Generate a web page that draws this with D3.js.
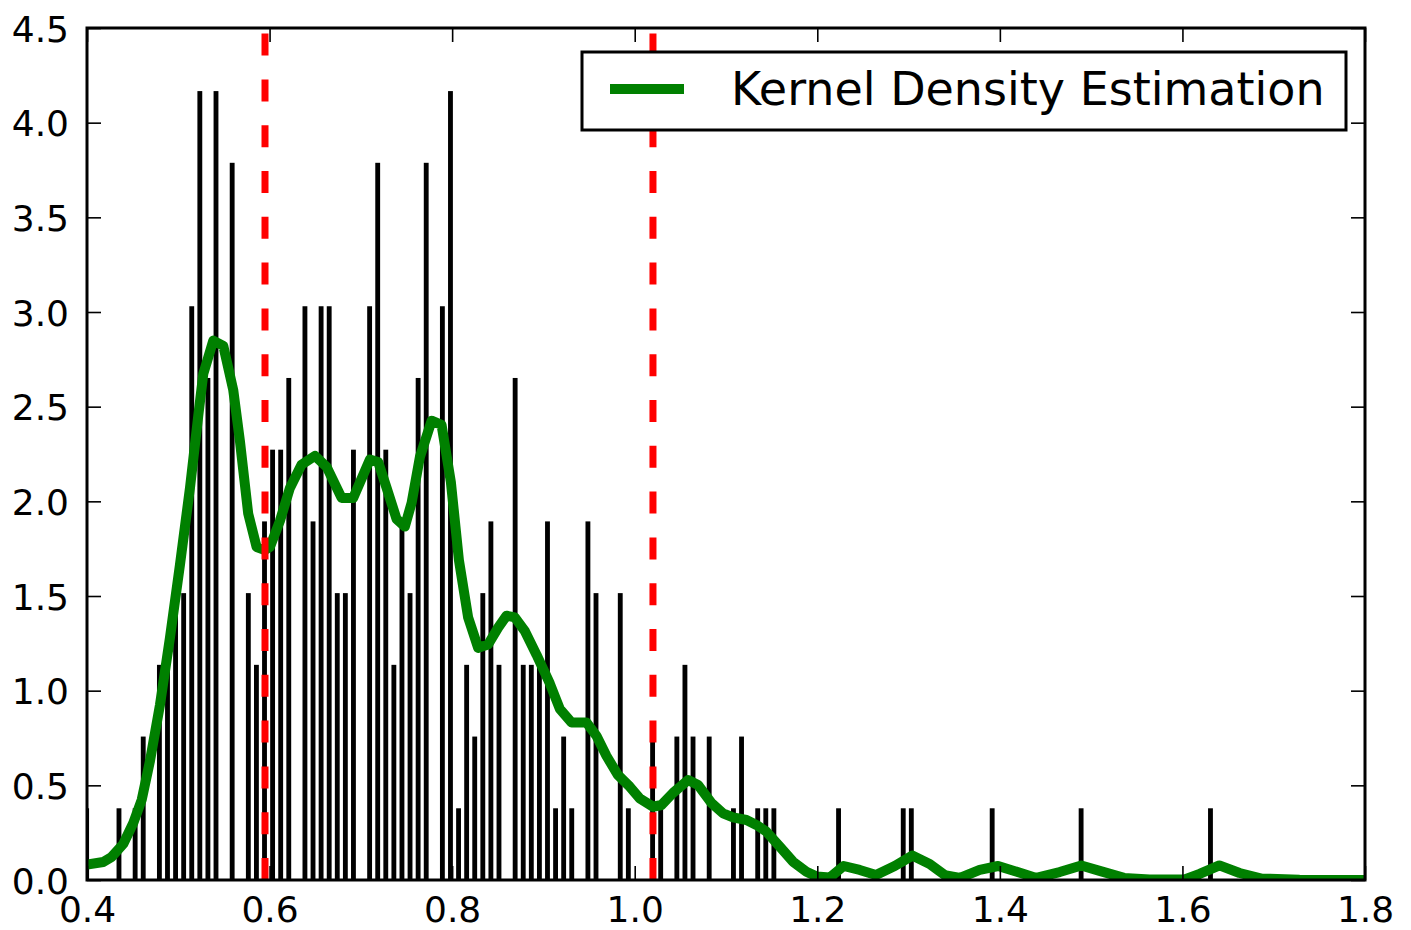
<!DOCTYPE html>
<html>
<head>
<meta charset="utf-8">
<script src="https://cdn.jsdelivr.net/npm/d3@7"></script>
<style>
  html, body { margin: 0; padding: 0; background: #ffffff; }
  svg { display: block; }
  text { font-family: "DejaVu Sans", sans-serif; fill: #000; }
</style>
</head>
<body>
<svg id="chart" width="1411" height="930"></svg>
<script>
// ---------------- data ----------------
// histogram: 140 equal bins, first bin centre and bin width (data units)
const binFirstCenter = 0.3996;
const binWidth = 0.008857;
// counts per bin
const binCounts = [
  1,0,0,0,1,0,1,2,0,3,
  3,4,4,8,11,7,11,0,10,0,
  4,3,5,6,6,7,0,8,5,8,
  8,4,4,6,0,8,10,6,3,5,
  4,7,10,0,8,11,1,3,2,4,
  5,3,0,7,3,3,3,5,1,2,
  1,0,5,4,0,0,4,1,0,0,
  2,1,0,2,3,2,0,2,0,0,
  1,2,0,1,1,1,0,0,0,0,
  0,0,0,1,0,0,0,0,0,0,
  0,1,1,0,0,0,0,0,0,0,
  0,0,1,0,0,0,0,0,0,0,
  0,0,0,1,0,0,0,0,0,0,
  0,0,0,0,0,0,0,0,0,1
];
const densityPerCount = 0.3788;

// kernel density estimate curve
const kdeX = [0.400,0.4178,0.4270,0.4397,0.4507,0.4599,0.4690,0.4799,0.4909,0.5018,
  0.5128,0.5219,0.5274,0.5383,0.5493,0.5602,0.5675,0.5766,0.5858,0.5949,
  0.6004,0.6113,0.6223,0.6351,0.6497,0.6625,0.6789,0.6916,0.7099,0.7190,
  0.7282,0.7391,0.7482,0.7556,0.7647,0.7775,0.7884,0.7986,0.8074,0.8175,
  0.8285,0.8394,0.8504,0.8596,0.8687,0.8796,0.8924,0.9070,0.9180,0.9308,
  0.9472,0.9582,0.9691,0.9815,0.9946,1.0056,1.0201,1.0293,1.0420,1.0585,
  1.0694,1.0841,1.0968,1.1077,1.1224,1.1333,1.1443,1.1589,1.1734,1.1881,
  1.1994,1.2136,1.2289,1.2465,1.2643,1.2848,1.3041,1.3231,1.3396,1.3563,
  1.3779,1.3981,1.4195,1.4399,1.4655,1.4892,1.5093,1.5360,1.5640,1.6024,
  1.6188,1.6405,1.6626,1.6867,1.7283,1.8000];
const kdeY = [0.081,0.095,0.122,0.190,0.301,0.423,0.629,0.924,1.281,1.664,
  2.071,2.453,2.673,2.849,2.821,2.588,2.319,1.935,1.759,1.743,
  1.759,1.896,2.071,2.194,2.240,2.182,2.018,2.018,2.221,2.208,
  2.071,1.907,1.867,1.992,2.235,2.426,2.404,2.102,1.690,1.387,
  1.226,1.244,1.333,1.396,1.387,1.315,1.190,1.038,0.903,0.832,
  0.832,0.761,0.655,0.555,0.493,0.431,0.387,0.396,0.460,0.528,
  0.502,0.407,0.352,0.331,0.317,0.291,0.255,0.176,0.097,0.044,
  0.018,0.013,0.074,0.053,0.026,0.074,0.129,0.085,0.026,0.011,
  0.053,0.074,0.042,0.011,0.042,0.077,0.048,0.011,0.003,0.003,
  0.032,0.077,0.037,0.008,0.001,0.000];

// vertical reference lines
const refLines = [0.595, 1.020];

// axes
const xDomain = [0.4, 1.8];
const yDomain = [0, 4.5];
const xTicks = [0.4, 0.6, 0.8, 1.0, 1.2, 1.4, 1.6, 1.8];
const xTickLabels = ["0.4","0.6","0.8","1.0","1.2","1.4","1.6","1.8"];
const yTicks = [0, 0.5, 1.0, 1.5, 2.0, 2.5, 3.0, 3.5, 4.0, 4.5];
const yTickLabels = ["0.0","0.5","1.0","1.5","2.0","2.5","3.0","3.5","4.0","4.5"];
const legendLabel = "Kernel Density Estimation";

// ---------------- drawing ----------------
const svg = d3.select("#chart");
const L = 87, R = 1365, T = 28, B = 880;
const x = d3.scaleLinear().domain(xDomain).range([L, R]);
const y = d3.scaleLinear().domain(yDomain).range([B, T]);

svg.append("defs").append("clipPath").attr("id", "plotclip")
  .append("rect").attr("x", L).attr("y", T).attr("width", R - L).attr("height", B - T);

const plot = svg.append("g").attr("clip-path", "url(#plotclip)");

// bars
const bars = binCounts.map((c, i) => ({center: binFirstCenter + i * binWidth, d: c * densityPerCount}))
  .filter(b => b.d > 0);
const barW = binWidth * 0.6;
plot.selectAll("rect.bar").data(bars).enter().append("rect")
  .attr("class", "bar")
  .attr("x", b => x(b.center - barW / 2))
  .attr("width", b => x(b.center + barW / 2) - x(b.center - barW / 2))
  .attr("y", b => y(b.d))
  .attr("height", b => y(0) - y(b.d))
  .attr("fill", "#000");

// KDE line
const kde = kdeX.map((v, i) => [v, kdeY[i]]);
plot.append("path")
  .datum(kde)
  .attr("fill", "none")
  .attr("stroke", "#008000")
  .attr("stroke-width", 10)
  .attr("stroke-linejoin", "round")
  .attr("d", d3.line().x(d => x(d[0])).y(d => y(d[1])));

// red dashed lines
plot.selectAll("line.ref").data(refLines).enter().append("line")
  .attr("class", "ref")
  .attr("x1", d => x(d)).attr("x2", d => x(d))
  .attr("y1", y(0)).attr("y2", y(4.5))
  .attr("stroke", "#ff0000")
  .attr("stroke-width", 7)
  .attr("stroke-dasharray", "22,23.8");

// axes (ticks inward on all sides)
const tickLen = 14;
const gB = svg.append("g").attr("transform", `translate(0,${B})`)
  .call(d3.axisBottom(x).tickValues(xTicks).tickFormat((d, i) => xTickLabels[i]).tickSize(-tickLen));
gB.selectAll("text").attr("y", 42).attr("dy", 0).style("font-size", "36px");
const gT = svg.append("g").attr("transform", `translate(0,${T})`)
  .call(d3.axisTop(x).tickValues(xTicks).tickFormat("").tickSize(-tickLen));
const gL = svg.append("g").attr("transform", `translate(${L},0)`)
  .call(d3.axisLeft(y).tickValues(yTicks).tickFormat((d, i) => yTickLabels[i]).tickSize(-tickLen));
gL.selectAll("text").attr("x", -18).attr("dy", "0.365em").style("font-size", "36px");
const gR = svg.append("g").attr("transform", `translate(${R},0)`)
  .call(d3.axisRight(y).tickValues(yTicks).tickFormat("").tickSize(-tickLen));
[gB, gT, gL, gR].forEach(g => {
  g.select(".domain").remove();
  g.selectAll(".tick line").attr("stroke", "#000").attr("stroke-width", 1.6);
  g.selectAll("text").attr("font-family", "DejaVu Sans").attr("fill", "#000");
});

// spines
svg.append("rect").attr("x", L).attr("y", T).attr("width", R - L).attr("height", B - T)
  .attr("fill", "none").attr("stroke", "#000").attr("stroke-width", 3);

// legend
const lg = svg.append("g");
lg.append("rect").attr("x", 582).attr("y", 52).attr("width", 764).attr("height", 78)
  .attr("fill", "#fff").attr("stroke", "#000").attr("stroke-width", 3);
lg.append("line").attr("x1", 610).attr("x2", 684).attr("y1", 89).attr("y2", 89)
  .attr("stroke", "#008000").attr("stroke-width", 10);
lg.append("text").attr("x", 731).attr("y", 105).style("font-size", "46px").text(legendLabel);
</script>
</body>
</html>
